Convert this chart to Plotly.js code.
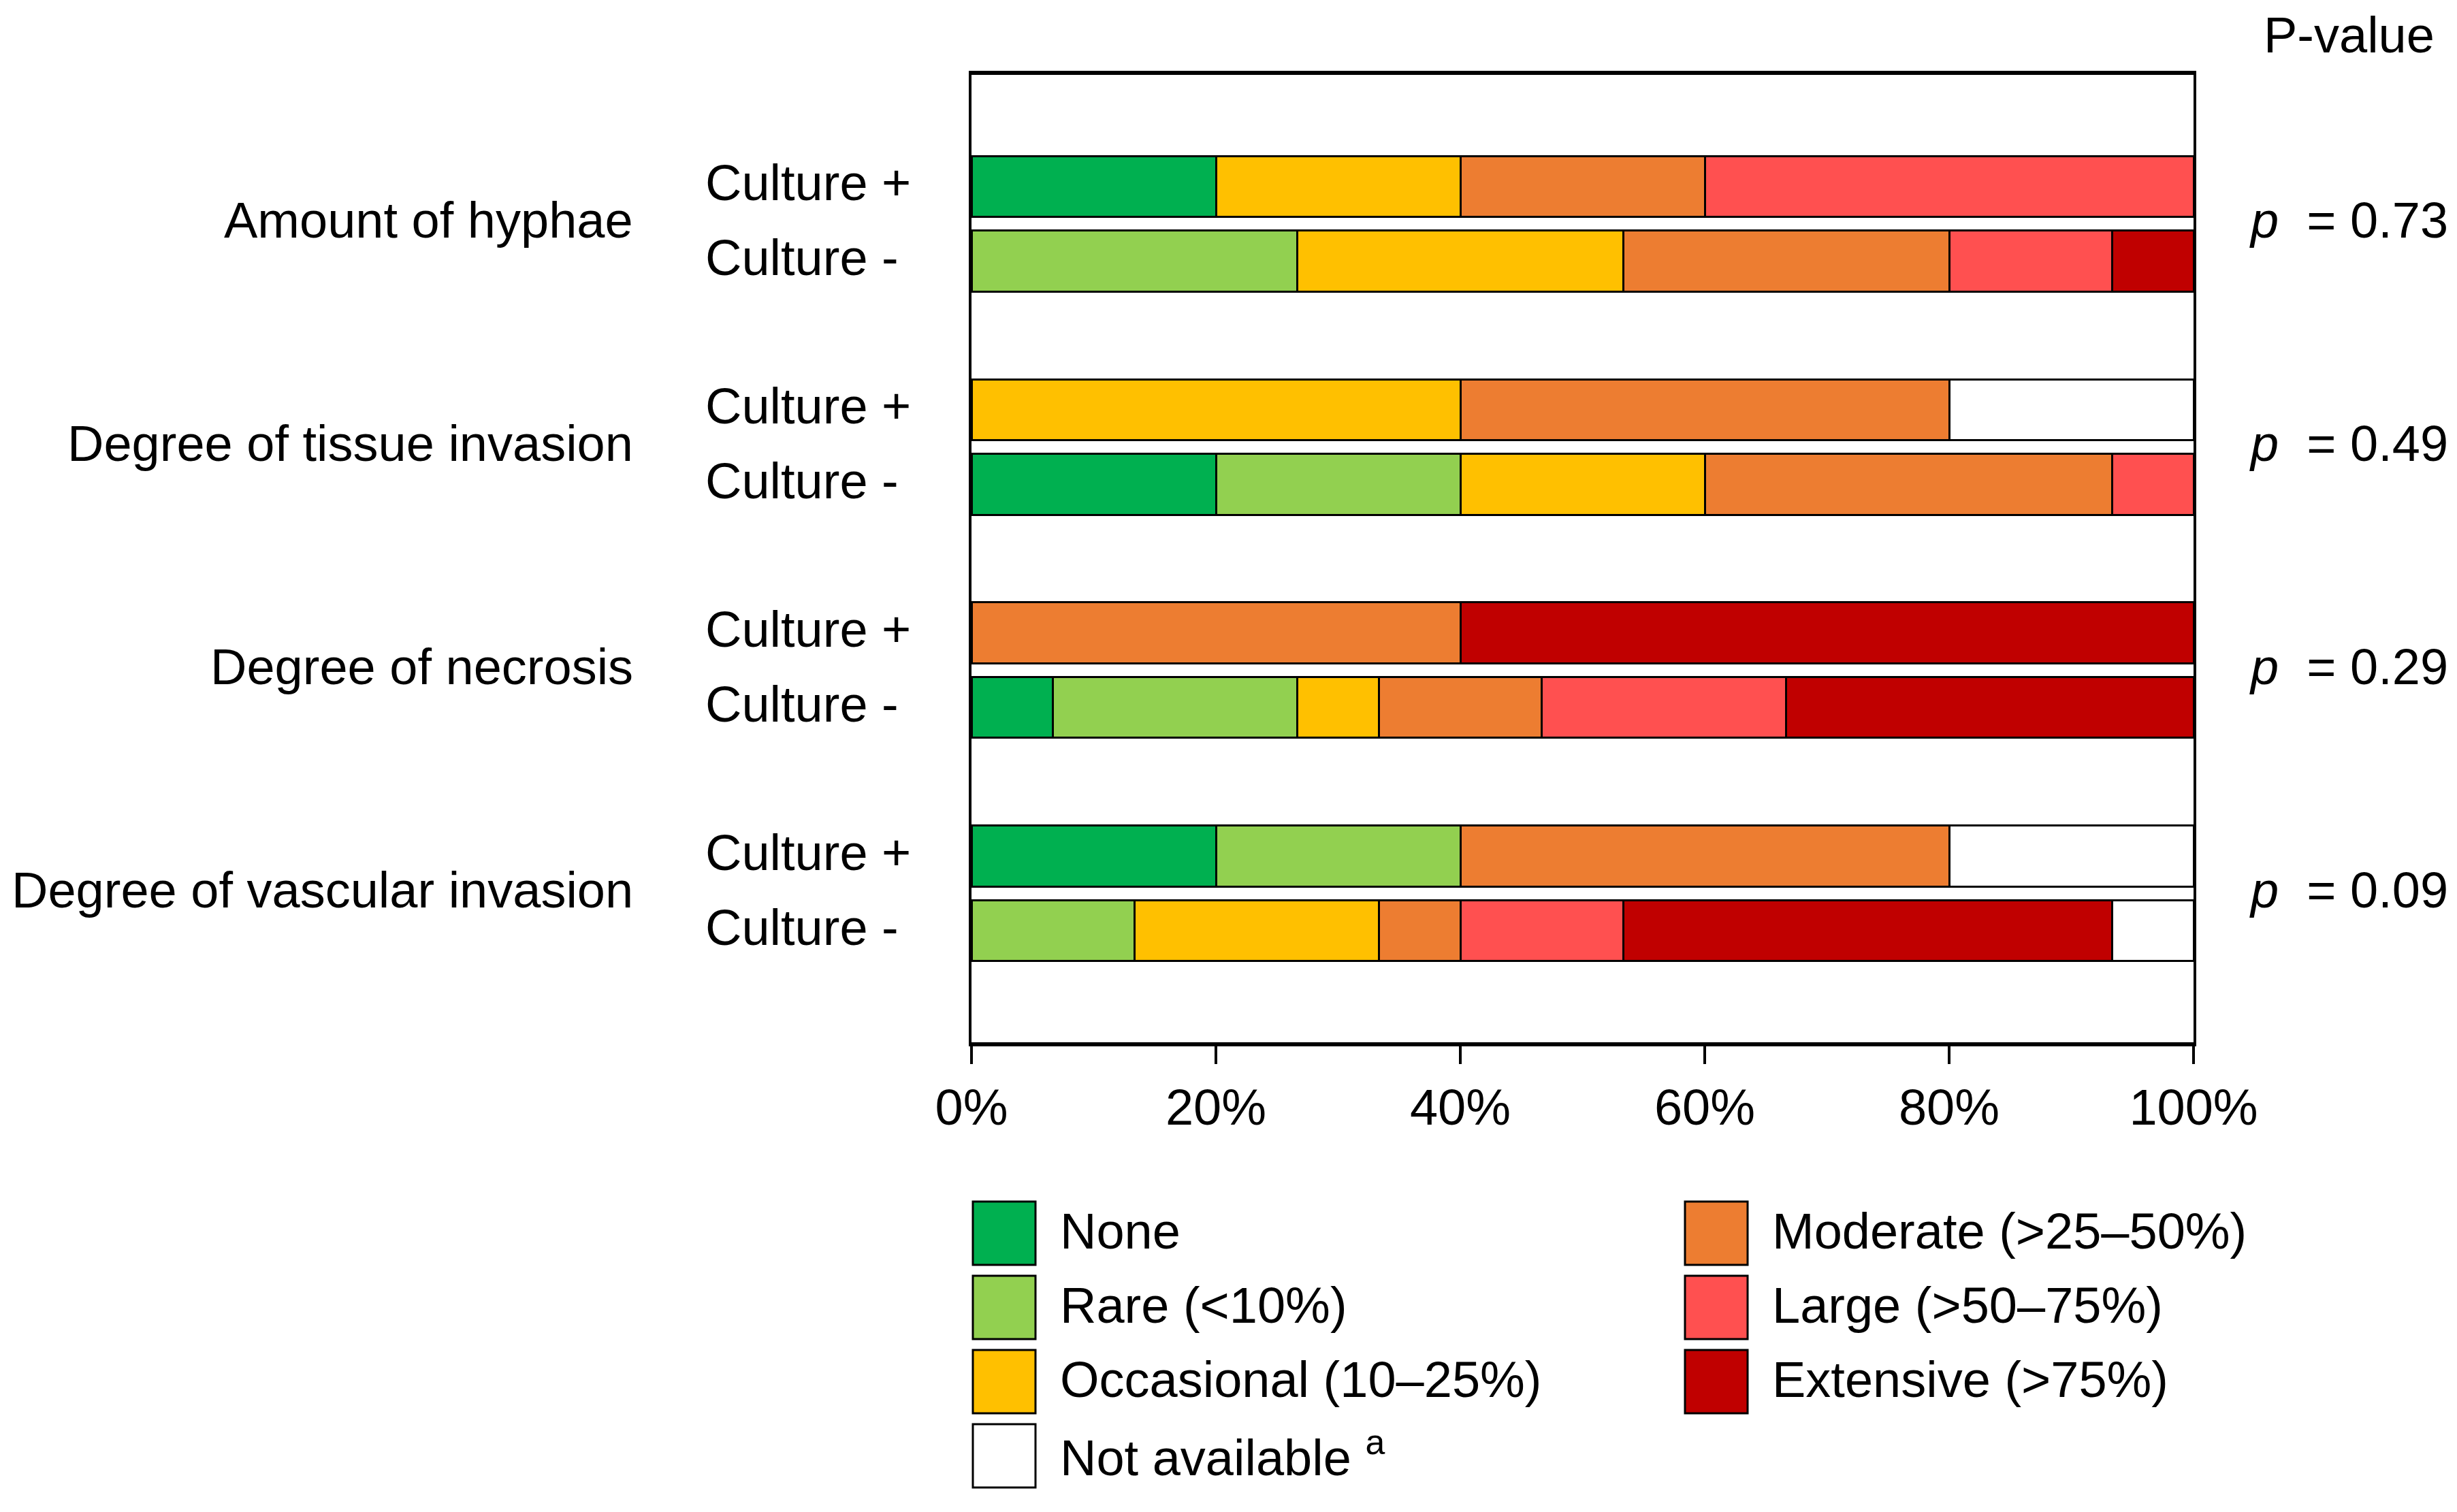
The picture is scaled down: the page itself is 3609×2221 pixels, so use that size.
<!DOCTYPE html>
<html>
<head>
<meta charset="utf-8">
<script src="https://cdn.plot.ly/plotly-3.0.1.min.js"></script>
<style>html,body{margin:0;padding:0;background:#fff;}</style>
</head>
<body>
<div id="chart" style="width:3609px;height:2221px;"></div>
<script>
// ---- data ----
var groups = ["Amount of hyphae", "Degree of tissue invasion", "Degree of necrosis", "Degree of vascular invasion"];
var subgroups = ["Culture +", "Culture -"];
var pValues = ["0.73", "0.49", "0.29", "0.09"];
var categories = ["None", "Rare (<10%)", "Occasional (10–25%)", "Moderate (>25–50%)", "Large (>50–75%)", "Extensive (>75%)", "Not available <sup>a</sup>"];
var colors = ["#00B050", "#92D050", "#FFC000", "#ED7D31", "#FF5050", "#C00000", "#FFFFFF"];
// row order: hyphae+, hyphae-, tissue+, tissue-, necrosis+, necrosis-, vascular+, vascular-
var none       = [20, 0,     0,  20,    0,  6.67,  20, 0];
var rare       = [0,  26.67, 0,  20,    0,  20,    20, 13.33];
var occasional = [20, 26.67, 40, 20,    0,  6.67,  0,  20];
var moderate   = [20, 26.67, 40, 33.33, 40, 13.33, 40, 6.67];
var large      = [40, 13.33, 0,  6.67,  0,  20,    0,  13.33];
var extensive  = [0,  6.67,  0,  0,     60, 33.33, 0,  40];
var notAvail   = [0,  0,     20, 0,     0,  0,     20, 6.67];
var series = [none, rare, occasional, moderate, large, extensive, notAvail];
var xTicks = [0, 20, 40, 60, 80, 100];

// ---- layout geometry ----
var W = 3609, H = 2221, L = 1427, R = 387, T = 110, B = 690;
var PW = W - L - R, PH = H - T - B;
function px2x(px) { return (px - L) / PW; }
function px2y(py) { return 1 - (py - T) / PH; }
var FONT = "Liberation Sans, Arial, Helvetica, sans-serif";
var FS = 74;
var YS = 5;

var rowPos = [];
groups.forEach(function (g, gi) {
  subgroups.forEach(function (s, si) { rowPos.push(gi * 3 + si); });
});

var traces = series.map(function (vals, ci) {
  return {
    type: "bar",
    orientation: "h",
    x: vals,
    y: rowPos,
    name: categories[ci],
    width: 0.82,
    marker: { color: colors[ci], line: { color: "#000", width: 3 } },
    showlegend: false,
    hoverinfo: "x+name"
  };
});

var annotations = [];
var shapes = [];
groups.forEach(function (g, gi) {
  annotations.push({
    text: g, xref: "paper", yref: "y", x: px2x(932), y: gi * 3 + 0.5, yshift: YS,
    xanchor: "right", yanchor: "middle", showarrow: false,
    font: { family: FONT, size: FS, color: "#000" }
  });
  subgroups.forEach(function (s, si) {
    annotations.push({
      text: s, xref: "paper", yref: "y", x: px2x(1034), y: gi * 3 + si, yshift: YS,
      xanchor: "left", yanchor: "middle", showarrow: false,
      font: { family: FONT, size: FS, color: "#000" }
    });
  });
  annotations.push({
    text: "<i>p</i>\u00a0 = " + pValues[gi], xref: "paper", yref: "y", x: px2x(3302), y: gi * 3 + 0.5, yshift: YS,
    xanchor: "left", yanchor: "middle", showarrow: false,
    font: { family: FONT, size: FS, color: "#000" }
  });
});
annotations.push({
  text: "P-value", xref: "paper", yref: "paper", x: px2x(3450), y: px2y(52),
  xanchor: "center", yanchor: "middle", showarrow: false,
  font: { family: FONT, size: FS, color: "#000" }
});

// legend (two columns, column-major)
var legendCols = [[0, 1, 2, 6], [3, 4, 5]];
var colX = [1429, 2475];
legendCols.forEach(function (col, c) {
  col.forEach(function (ci, r) {
    var y0 = 1765 + r * 109, y1 = y0 + 93;
    shapes.push({
      type: "rect", xref: "paper", yref: "paper",
      x0: px2x(colX[c]), x1: px2x(colX[c] + 92), y0: px2y(y1), y1: px2y(y0),
      fillcolor: colors[ci], line: { color: "#000", width: 3 }
    });
    annotations.push({
      text: categories[ci], xref: "paper", yref: "paper",
      x: px2x(colX[c] + 126), y: px2y((y0 + y1) / 2), yshift: 3,
      xanchor: "left", yanchor: "middle", showarrow: false,
      font: { family: FONT, size: FS, color: "#000" }
    });
  });
});

var layout = {
  width: W, height: H,
  margin: { l: L, r: R, t: T, b: B, pad: 0 },
  paper_bgcolor: "#fff", plot_bgcolor: "#fff",
  barmode: "stack",
  showlegend: false,
  font: { family: FONT, size: FS, color: "#000" },
  xaxis: {
    range: [0, 100], tickvals: xTicks, ticktext: xTicks.map(function (v) { return v + "%"; }),
    ticks: "outside", ticklen: 26, tickwidth: 4, tickcolor: "#000",
    showline: true, linewidth: 6, linecolor: "#000", mirror: true,
    showgrid: false, zeroline: false, fixedrange: true,
    tickfont: { family: FONT, size: FS, color: "#000" }
  },
  yaxis: {
    range: [11.5, -1.5], showticklabels: false, ticks: "",
    showline: true, linewidth: 4, linecolor: "#000", mirror: true,
    showgrid: false, zeroline: false, fixedrange: true
  },
  annotations: annotations,
  shapes: shapes
};

Plotly.newPlot("chart", traces, layout, { displayModeBar: false, staticPlot: true });
</script>
</body>
</html>
